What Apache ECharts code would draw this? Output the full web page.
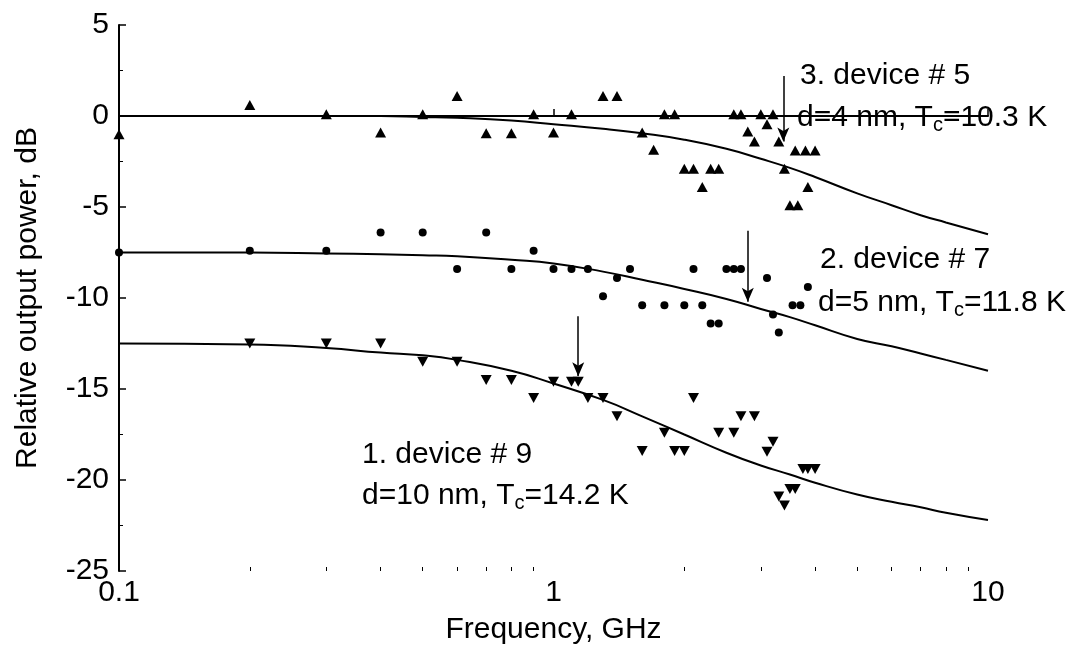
<!DOCTYPE html>
<html>
<head>
<meta charset="utf-8">
<script src="https://cdn.jsdelivr.net/npm/echarts@6/dist/echarts.min.js"></script>
<style>
  html, body { margin: 0; padding: 0; background: #fff; }
  #chart { width: 1086px; height: 660px; }
</style>
</head>
<body>
<div id="chart"></div>
<script>
// fitted curves at these frequencies (GHz)
const fitFreq = [0.1, 0.2, 0.3, 0.4, 0.5, 0.6, 0.8, 1, 1.3, 1.6, 2, 2.5, 3, 3.5, 4, 5, 6, 7, 8, 10]
const fitDev5 = [0, 0, 0, 0, -0.05, -0.1, -0.25, -0.45, -0.7, -0.95, -1.3, -1.8, -2.35, -2.85, -3.35, -4.25, -4.9, -5.45, -5.85, -6.5]
const fitDev7 = [-7.5, -7.5, -7.55, -7.6, -7.65, -7.7, -7.9, -8.1, -8.55, -9.0, -9.5, -10.05, -10.6, -11.05, -11.5, -12.25, -12.65, -13.05, -13.4, -14.0]
const fitDev9 = [-12.5, -12.55, -12.75, -13.0, -13.15, -13.4, -14.0, -14.7, -15.6, -16.5, -17.5, -18.5, -19.2, -19.7, -20.15, -20.8, -21.2, -21.5, -21.8, -22.2]

// measured points, device # 5 (triangles)
const freq5 = [0.1, 0.2, 0.3, 0.4, 0.5, 0.6, 0.7, 0.8, 0.9, 1.0, 1.1, 1.3, 1.4, 1.6, 1.7, 1.8, 1.9, 2.0, 2.1, 2.2, 2.3, 2.4, 2.6, 2.7, 2.8, 2.9, 3.0, 3.1, 3.2, 3.3, 3.4, 3.5, 3.65, 3.6, 3.8, 4.0, 3.85]
const pow5 = [-1, 0.6, 0.1, -0.9, 0.1, 1.1, -0.95, -0.95, 0.1, -0.9, 0.1, 1.1, 1.1, -0.9, -1.85, 0.1, 0.1, -2.9, -2.9, -3.9, -2.9, -2.9, 0.1, 0.1, -0.85, -1.4, 0.1, -0.45, 0.1, -1.4, -2.9, -4.9, -4.9, -1.9, -1.9, -1.9, -3.9]

// device # 7 (dots)
const freq7 = [0.1, 0.2, 0.3, 0.4, 0.5, 0.6, 0.7, 0.8, 0.9, 1.0, 1.1, 1.2, 1.3, 1.4, 1.5, 1.6, 1.8, 2.0, 2.1, 2.2, 2.3, 2.4, 2.5, 2.6, 2.7, 3.1, 3.2, 3.3, 3.55, 3.7, 3.85]
const pow7 = [-7.5, -7.4, -7.4, -6.4, -6.4, -8.4, -6.4, -8.4, -7.4, -8.4, -8.4, -8.4, -9.9, -8.9, -8.4, -10.4, -10.4, -10.4, -8.4, -10.4, -11.4, -11.4, -8.4, -8.4, -8.4, -8.9, -10.9, -11.9, -10.4, -10.4, -9.4]

// device # 9 (inverted triangles)
const freq9 = [0.2, 0.3, 0.4, 0.5, 0.6, 0.7, 0.8, 0.9, 1.0, 1.1, 1.14, 1.2, 1.3, 1.4, 1.6, 1.8, 1.9, 2.0, 2.1, 2.4, 2.6, 2.7, 2.9, 3.1, 3.2, 3.3, 3.4, 3.5, 3.6, 3.75, 3.85, 4.0]
const pow9 = [-12.5, -12.5, -12.5, -13.5, -13.5, -14.5, -14.5, -15.5, -14.6, -14.6, -14.6, -15.5, -15.5, -16.5, -18.4, -17.4, -18.4, -18.4, -15.5, -17.4, -17.4, -16.5, -16.5, -18.45, -17.9, -20.9, -21.4, -20.5, -20.5, -19.4, -19.4, -19.4]

// arrows marking the cutoff: [freq, from, to]
const arrow5 = [3.38, 2.2, -1.4]
const arrow7 = [2.8, -6.3, -10.2]
const arrow9 = [1.14, -11.0, -14.3]

const xMajor = [0.1, 1, 10]
const xMinor = [0.2, 0.3, 0.4, 0.5, 0.6, 0.7, 0.8, 0.9, 2, 3, 4, 5, 6, 7, 8, 9]

const zip = (xs, ys) => xs.map((x, i) => [x, ys[i]])
const FONT = 'Liberation Sans, Arial, sans-serif'

function arrowLine(a) {
  return {
    silent: true,
    symbol: ['none', 'arrow'],
    symbolSize: [9, 14],
    label: { show: false },
    lineStyle: { color: '#000', width: 1.5, type: 'solid' },
    data: [[{ coord: [a[0], a[1]] }, { coord: [a[0], a[2]] }]]
  }
}

var chart = echarts.init(document.getElementById('chart'))
chart.setOption({
  animation: false,
  backgroundColor: '#fff',
  textStyle: { fontFamily: FONT, color: '#000' },
  grid: { left: 119, right: 98, top: 25, bottom: 89 },
  xAxis: [
    {
      type: 'log',
      logBase: 10,
      min: 0.1,
      max: 10,
      name: 'Frequency, GHz',
      nameLocation: 'middle',
      nameGap: 44,
      nameTextStyle: { fontSize: 30, color: '#000', fontFamily: FONT },
      axisLine: { lineStyle: { color: '#000', width: 2 } },
      axisTick: { inside: true, length: 7, customValues: xMajor, lineStyle: { color: '#000', width: 1.5 } },
      axisLabel: { customValues: xMajor, fontSize: 30, color: '#000', margin: 7, fontFamily: FONT, formatter: v => String(v) },
      splitLine: { show: false }
    },
    {
      type: 'log',
      logBase: 10,
      min: 0.1,
      max: 10,
      position: 'bottom',
      axisLine: { show: false },
      axisTick: { inside: true, length: 4, customValues: xMinor, lineStyle: { color: '#000', width: 1 } },
      axisLabel: { show: false },
      splitLine: { show: false }
    }
  ],
  yAxis: {
    type: 'value',
    min: -25,
    max: 5,
    interval: 5,
    name: 'Relative output power, dB',
    nameLocation: 'middle',
    nameGap: 76,
    nameTextStyle: { fontSize: 30, color: '#000', fontFamily: FONT },
    axisLine: { show: true, lineStyle: { color: '#000', width: 2 } },
    axisTick: { inside: true, length: 7, lineStyle: { color: '#000', width: 1.5 } },
    minorTick: { show: true, splitNumber: 2, length: 4, lineStyle: { color: '#000', width: 1 } },
    axisLabel: { fontSize: 30, color: '#000', margin: 10, fontFamily: FONT },
    splitLine: { show: false }
  },
  series: [
    {
      type: 'line', name: 'fit 5', data: zip(fitFreq, fitDev5), smooth: true,
      showSymbol: false, lineStyle: { color: '#000', width: 2 }, z: 1
    },
    {
      type: 'line', name: 'fit 7', data: zip(fitFreq, fitDev7), smooth: true,
      showSymbol: false, lineStyle: { color: '#000', width: 2 }, z: 1
    },
    {
      type: 'line', name: 'fit 9', data: zip(fitFreq, fitDev9), smooth: true,
      showSymbol: false, lineStyle: { color: '#000', width: 2 }, z: 1
    },
    {
      type: 'scatter', name: 'device # 5', data: zip(freq5, pow5),
      symbol: 'triangle', symbolSize: [11, 10], itemStyle: { color: '#000', opacity: 1 },
      markLine: arrowLine(arrow5)
    },
    {
      type: 'scatter', name: 'device # 7', data: zip(freq7, pow7),
      symbol: 'circle', symbolSize: 8, itemStyle: { color: '#000', opacity: 1 },
      markLine: arrowLine(arrow7)
    },
    {
      type: 'scatter', name: 'device # 9', data: zip(freq9, pow9),
      symbol: 'triangle', symbolRotate: 180, symbolSize: [11, 10], itemStyle: { color: '#000', opacity: 1 },
      markLine: arrowLine(arrow9)
    }
  ],
  graphic: [
    { type: 'text', left: 800, top: 61, style: { text: '3. device # 5', font: '30px ' + FONT, fill: '#000' } },
    {
      type: 'text', left: 797, top: 103,
      style: {
        text: 'd=4 nm, T{s|c}=10.3 K', font: '30px ' + FONT, fill: '#000',
        rich: { s: { fontSize: 20, fontFamily: FONT, padding: [15, 0, 0, 0] } }
      }
    },
    { type: 'text', left: 820, top: 245, style: { text: '2. device # 7', font: '30px ' + FONT, fill: '#000' } },
    {
      type: 'text', left: 818, top: 288,
      style: {
        text: 'd=5 nm, T{s|c}=11.8 K', font: '30px ' + FONT, fill: '#000',
        rich: { s: { fontSize: 20, fontFamily: FONT, padding: [15, 0, 0, 0] } }
      }
    },
    { type: 'text', left: 362, top: 440, style: { text: '1. device # 9', font: '30px ' + FONT, fill: '#000' } },
    {
      type: 'text', left: 362, top: 481,
      style: {
        text: 'd=10 nm, T{s|c}=14.2 K', font: '30px ' + FONT, fill: '#000',
        rich: { s: { fontSize: 20, fontFamily: FONT, padding: [15, 0, 0, 0] } }
      }
    }
  ]
})
</script>
</body>
</html>
